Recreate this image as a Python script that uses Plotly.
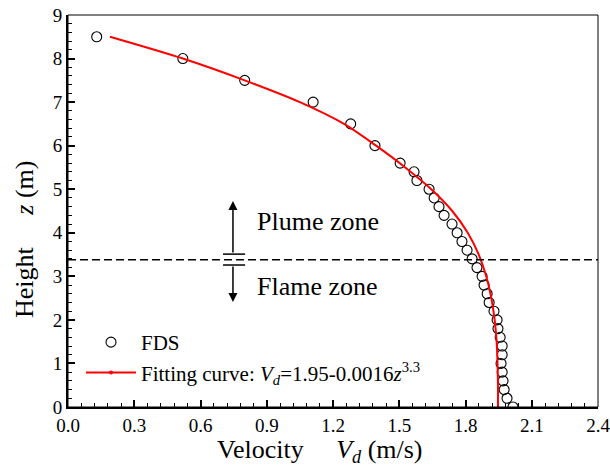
import plotly.graph_objects as go

# ---- data ----
fds_z = [0.0, 0.2, 0.4, 0.6, 0.8, 1.0, 1.2, 1.4, 1.6, 1.8, 2.0, 2.2, 2.4, 2.6, 2.8,
         3.0, 3.2, 3.4, 3.6, 3.8, 4.0, 4.2, 4.4, 4.6, 4.8, 5.0, 5.2, 5.4, 5.6,
         6.0, 6.5, 7.0, 7.5, 8.0, 8.5]
fds_v = [2.015, 1.988, 1.975, 1.970, 1.966, 1.961, 1.966, 1.966, 1.957, 1.947, 1.943,
         1.929, 1.907, 1.898, 1.884, 1.875, 1.852, 1.830, 1.807, 1.784, 1.762, 1.739,
         1.703, 1.680, 1.658, 1.635, 1.580, 1.567, 1.504, 1.39, 1.28, 1.11, 0.80, 0.52, 0.13]

fit_z = [8.5, 8.0, 7.5, 7.0, 6.5, 6.0, 5.5, 5.0, 4.5, 4.0, 3.5, 3.0, 2.5, 2.0, 1.5, 1.0, 0.5, 0.0]
fit_v = [0.19, 0.52, 0.80, 1.05, 1.25, 1.395, 1.527, 1.645, 1.74, 1.81, 1.86, 1.894,
         1.917, 1.932, 1.941, 1.945, 1.947, 1.947]

flame_height = 3.38
x_ticks = [0.0, 0.3, 0.6, 0.9, 1.2, 1.5, 1.8, 2.1, 2.4]
x_tick_labels = ["0.0", "0.3", "0.6", "0.9", "1.2", "1.5", "1.8", "2.1", "2.4"]
y_ticks = [0, 1, 2, 3, 4, 5, 6, 7, 8, 9]

SERIF = "Liberation Serif, Times New Roman, serif"

fig = go.Figure()

fig.add_trace(go.Scatter(
    x=fds_v, y=fds_z, mode="markers", name="FDS",
    marker=dict(symbol="circle-open", size=10, color="black", line=dict(width=1.1, color="black")),
))
fig.add_trace(go.Scatter(
    x=fit_v, y=fit_z, mode="lines", showlegend=False,
    line=dict(color="#ff0000", width=2, shape="spline", smoothing=0.8),
))
# legend-only entry (line with a small dot, as in the reference legend)
fig.add_trace(go.Scatter(
    x=[None], y=[None], mode="lines+markers",
    name="Fitting curve: <i>V</i><sub><i>d</i></sub>=1.95-0.0016<i>z</i><sup>3.3</sup>",
    line=dict(color="#ff0000", width=2),
    marker=dict(color="#ff0000", size=4, symbol="circle"),
))

axis_common = dict(
    showgrid=False, zeroline=False, showline=True, linecolor="black", linewidth=2,
    ticks="inside", tickcolor="black", tickwidth=1.5, ticklen=7,
    tickfont=dict(family=SERIF, size=19, color="black"),
    mirror=False, ticklabeloverflow="allow", automargin=False,
)

fig.update_xaxes(
    range=[0, 2.4], tickmode="array", tickvals=x_ticks, ticktext=x_tick_labels,
    minor=dict(ticks="inside", dtick=0.06, tick0=0, ticklen=4, tickwidth=1.2, tickcolor="black"),
    ticklabelstandoff=0,
    **axis_common,
)
fig.update_yaxes(
    range=[0, 9], tickmode="array", tickvals=y_ticks,
    minor=dict(ticks="inside", dtick=0.2, tick0=0, ticklen=4, tickwidth=1.2, tickcolor="black"),
    ticklabelstandoff=0,
    **axis_common,
)

# thin frame (top/right)
fig.add_shape(type="rect", xref="paper", yref="paper", x0=0, x1=1, y0=0, y1=1,
              line=dict(color="black", width=1), layer="above")

# flame height dashed line
fig.add_shape(type="line", xref="paper", yref="y", x0=0, x1=1, y0=flame_height, y1=flame_height,
              line=dict(color="black", width=1.4, dash="8px,4px"))
# break bars around the dashed line
for yb in (3.51, 3.26):
    fig.add_shape(type="line", xref="x", yref="y", x0=0.702, x1=0.802, y0=yb, y1=yb,
                  line=dict(color="black", width=1.5))

# arrows
fig.add_annotation(x=0.747, y=4.73, ax=0.747, ay=3.51, xref="x", yref="y", axref="x", ayref="y",
                   showarrow=True, arrowhead=2, arrowsize=1.2, arrowwidth=1.5, arrowcolor="black", text="")
fig.add_annotation(x=0.747, y=2.41, ax=0.747, ay=3.26, xref="x", yref="y", axref="x", ayref="y",
                   showarrow=True, arrowhead=2, arrowsize=1.2, arrowwidth=1.5, arrowcolor="black", text="")

fig.add_annotation(x=0.847, y=4.27, xref="x", yref="y", text="Plume zone", showarrow=False,
                   xanchor="left", yanchor="middle", font=dict(family=SERIF, size=26, color="black"))
fig.add_annotation(x=0.847, y=2.77, xref="x", yref="y", text="Flame zone", showarrow=False,
                   xanchor="left", yanchor="middle", font=dict(family=SERIF, size=26, color="black"))

NB = "\u00a0"
# axis titles
fig.add_annotation(x=(320 - 68) / 530, y=-(451 - 407) / 392, xref="paper", yref="paper",
                   text="Velocity" + NB * 5 + "<i>V</i><sub><i>d</i></sub> (m/s)",
                   showarrow=False, xanchor="center", yanchor="middle",
                   font=dict(family=SERIF, size=26, color="black"))
fig.add_annotation(x=-(68 - 24) / 530, y=(407 - 240) / 392, xref="paper", yref="paper",
                   text="Height" + NB * 5 + "<i>z</i> (m)", textangle=-90,
                   showarrow=False, xanchor="center", yanchor="middle",
                   font=dict(family=SERIF, size=26, color="black"))

fig.update_layout(
    width=610, height=470,
    margin=dict(l=68, r=12, t=15, b=63, autoexpand=False),
    paper_bgcolor="white", plot_bgcolor="white",
    showlegend=True,
    legend=dict(x=(81 - 68) / 530, y=(407 - 322) / 392, xref="paper", yref="paper",
                xanchor="left", yanchor="top", bgcolor="rgba(0,0,0,0)",
                font=dict(family=SERIF, size=21, color="black"),
                itemwidth=50, tracegroupgap=0),
    font=dict(family=SERIF, color="black"),
)

fig.write_html("out.html")
